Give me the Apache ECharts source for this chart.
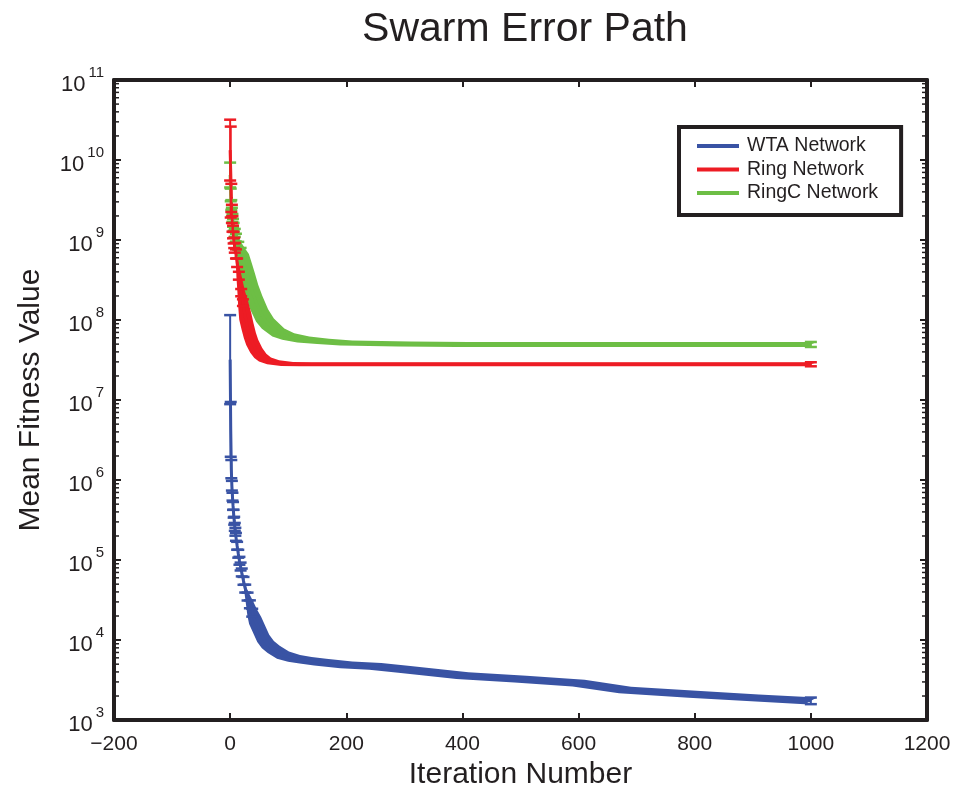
<!DOCTYPE html>
<html><head><meta charset="utf-8">
<script src="https://cdn.jsdelivr.net/npm/echarts@6/dist/echarts.min.js"></script>
<style>html,body{margin:0;padding:0;background:#fff}#chart{width:955px;height:795px}</style>
</head><body><div id="chart"></div>
<script>
// ---- data ----
const seriesNames = ['WTA Network', 'Ring Network', 'RingC Network'];

const wtaIter   = [0,1,2,3,4,5,6,7,8,9,10,12,14,16,18,20,23,26,30,34,38,43,50,57,65,75,91,110,130,155,200,250,300,400,500,600,680,800,900,1000];
const wtaMean   = [3.2e7,4.3e6,1.37e6,8.5e5,6.2e5,4.75e5,3.8e5,3.1e5,2.6e5,2.26e5,1.95e5,1.51e5,1.2e5,9.8e4,8.3e4,7.0e4,5.5e4,4.4e4,3.5e4,2.8e4,2.2e4,1.76e4,1.36e4,1.05e4,8.8e3,7.65e3,6.5e3,5.9e3,5.6e3,5.3e3,4.9e3,4.7e3,4.3e3,3.6e3,3.25e3,2.9e3,2.38e3,2.1e3,1.9e3,1.74e3];
const wtaSpread = [3.6,2.2,1.3,1.15,1.12,1.12,1.12,1.12,1.12,1.12,1.12,1.12,1.12,1.12,1.12,1.12,1.12,1.12,1.12,1.12,1.12,1.11,1.11,1.11,1.11,1.11,1.11,1.1,1.1,1.1,1.1,1.1,1.1,1.1,1.1,1.1,1.1,1.1,1.1,1.1];

const ringIter   = [0,1,2,3,4,5,6,7,8,10,12,15,19,22,26,30,34,38,45,52,60,74,98,130,200,400,600,800,1000];
const ringMean   = [1.33e10,7.07e9,3.36e9,2.12e9,1.59e9,1.26e9,1.07e9,9.2e8,8.0e8,6.7e8,5.2e8,3.58e8,2.2e8,1.65e8,1.11e8,8.3e7,6.4e7,5.25e7,4.17e7,3.56e7,3.22e7,2.96e7,2.83e7,2.8e7,2.8e7,2.8e7,2.8e7,2.8e7,2.8e7];
const ringSpread = [2.4,3.7,1.5,1.3,1.25,1.2,1.18,1.16,1.15,1.14,1.13,1.12,1.11,1.1,1.1,1.09,1.08,1.08,1.07,1.065,1.06,1.06,1.06,1.06,1.06,1.06,1.06,1.06,1.06];

const ringcIter   = [0,1,2,3,4,5,6,8,10,14,18,22,27,32,38,45,55,65,83,100,126,160,200,300,400,600,800,1000];
const ringcMean   = [6.49e9,3.66e9,2.74e9,2.24e9,1.89e9,1.64e9,1.46e9,1.23e9,1.07e9,8.47e8,6.93e8,5.66e8,4.26e8,3.19e8,2.26e8,1.65e8,1.14e8,9.04e7,6.98e7,6.23e7,5.71e7,5.4e7,5.17e7,5.02e7,4.95e7,4.95e7,4.95e7,4.95e7];
const ringcSpread = [1.43,1.2,1.15,1.13,1.12,1.12,1.12,1.12,1.12,1.12,1.15,1.18,1.2,1.22,1.22,1.22,1.2,1.16,1.12,1.1,1.09,1.08,1.075,1.075,1.075,1.075,1.075,1.075];

// iteration from which the dense error bars merge into a solid band
const wtaBandFrom = 43, ringBandFrom = 26, ringcBandFrom = 22;

const xMin = -200, xMax = 1200, xStep = 200;
const yMin = 1e3, yMax = 1e11;

// ---- styles ----
const colors = { wta: '#3953a4', ring: '#ed1c24', ringc: '#6dbe45' };
const ink = '#231f20';
const FONT = 'Liberation Sans, Arial, sans-serif';
const CAP = 6;        // half cap width, px
const RAMP = 4;       // points over which the band widens in

function pairs(iters, means) { return iters.map((x, i) => [x, means[i]]); }

function lineSeries(name, color, iters, means) {
  return { type: 'line', name, data: pairs(iters, means), showSymbol: false, symbol: 'none',
    lineStyle: { color, width: 3 }, itemStyle: { color }, z: 4, animation: false };
}
// individual error bars: only where they are still separate, plus the last one
function errSeries(color, iters, means, spreads, fromIter) {
  const data = [];
  iters.forEach((x, i) => {
    if (x < fromIter || i === iters.length - 1)
      data.push([x, means[i], means[i] / spreads[i], means[i] * spreads[i]]);
  });
  return {
    type: 'custom', name: '_err', data, z: 5, clip: false, animation: false,
    encode: { x: 0, y: 1 },
    renderItem(params, api) {
      const x = api.value(0);
      const pLo = api.coord([x, api.value(2)]);
      const pHi = api.coord([x, api.value(3)]);
      const c = CAP;
      return { type: 'group', children: [
        { type: 'line', shape: { x1: pLo[0], y1: pLo[1], x2: pHi[0], y2: pHi[1] }, style: { stroke: color, lineWidth: 2 } },
        { type: 'line', shape: { x1: pHi[0] - c, y1: pHi[1], x2: pHi[0] + c, y2: pHi[1] }, style: { stroke: color, lineWidth: 2.5 } },
        { type: 'line', shape: { x1: pLo[0] - c, y1: pLo[1], x2: pLo[0] + c, y2: pLo[1] }, style: { stroke: color, lineWidth: 2.5 } }
      ]};
    }
  };
}
// dense error bars drawn as their envelope, widening in gradually
function bandSeries(color, iters, means, spreads, fromIter) {
  const start = Math.max(1, iters.indexOf(fromIter) - RAMP);
  return {
    type: 'custom', name: '_band', data: [[iters[start], means[start]]], z: 3, clip: false, animation: false,
    encode: { x: 0, y: 1 },
    renderItem(params, api) {
      const up = [], dn = [];
      for (let i = start; i < iters.length; i++) {
        const w = Math.min(1, (i - start + 1) / (RAMP + 1));
        const c = CAP * w;
        const f = Math.pow(spreads[i], w);
        const a = api.coord([iters[i], means[i] * f]);
        const b = api.coord([iters[i], means[i] / f]);
        up.push([a[0] + c, a[1]]);
        dn.push([b[0] - c, b[1]]);
      }
      const apex = api.coord([iters[start - 1], means[start - 1]]);
      return { type: 'polygon', shape: { points: [apex].concat(up, dn.reverse()) }, style: { fill: color } };
    }
  };
}
// log minor ticks (2..9 x 10^k) on left and right frame
const minorVals = [];
for (let k = Math.round(Math.log10(yMin)); k < Math.round(Math.log10(yMax)); k++)
  for (let m = 2; m <= 9; m++) minorVals.push(m * Math.pow(10, k));
const minorTickSeries = {
  type: 'custom', name: '_minor', data: minorVals.map(v => [xMin, v]), z: 10, clip: false, animation: false,
  encode: { x: 0, y: 1 }, silent: true,
  renderItem(params, api) {
    const v = api.value(1);
    const l = api.coord([xMin, v]), r = api.coord([xMax, v]);
    return { type: 'group', children: [
      { type: 'line', shape: { x1: l[0], y1: l[1], x2: l[0] + 5, y2: l[1] }, style: { stroke: ink, lineWidth: 1.5 } },
      { type: 'line', shape: { x1: r[0] - 5, y1: r[1], x2: r[0], y2: r[1] }, style: { stroke: ink, lineWidth: 1.5 } }
    ]};
  }
};

const chart = echarts.init(document.getElementById('chart'), null, { renderer: 'canvas' });
const axisLine = { show: true, onZero: false, lineStyle: { color: ink, width: 4 } };
const tick = { show: true, inside: true, length: 7, lineStyle: { color: ink, width: 2 } };

chart.setOption({
  animation: false,
  backgroundColor: '#fff',
  title: { text: 'Swarm Error Path', left: 520, textAlign: 'center', top: 4,
    textStyle: { fontFamily: FONT, fontSize: 41, fontWeight: 'normal', color: ink } },
  grid: { left: 114, right: 28, top: 80, bottom: 73 },
  legend: {
    data: seriesNames, orient: 'vertical', left: 679, top: 127,
    padding: [9, 23, 12, 18], itemGap: 3.5, itemWidth: 42, itemHeight: 4, icon: 'rect',
    borderColor: ink, borderWidth: 4, backgroundColor: '#fff',
    textStyle: { fontFamily: FONT, fontSize: 19.5, color: ink, lineHeight: 20, padding: [0, 0, 0, 3] }
  },
  xAxis: [
    { type: 'value', min: xMin, max: xMax, interval: xStep, position: 'bottom',
      name: 'Iteration Number', nameLocation: 'middle', nameGap: 37,
      nameTextStyle: { fontFamily: FONT, fontSize: 30, color: ink },
      axisLine, axisTick: tick, splitLine: { show: false },
      axisLabel: { fontFamily: FONT, fontSize: 21, color: ink, margin: 14,
        formatter: v => (v < 0 ? '\u2212' + Math.abs(v) : String(v)) } },
    { type: 'value', min: xMin, max: xMax, interval: xStep, position: 'top',
      axisLine, axisTick: tick, axisLabel: { show: false }, splitLine: { show: false } }
  ],
  yAxis: [
    { type: 'log', logBase: 10, min: yMin, max: yMax, interval: 1, position: 'left',
      name: 'Mean Fitness Value', nameLocation: 'middle', nameGap: 68,
      nameTextStyle: { fontFamily: FONT, fontSize: 30, color: ink },
      axisLine, axisTick: tick, splitLine: { show: false }, minorTick: { show: false },
      axisLabel: { margin: 10, color: ink,
        formatter: v => '{b|10}{e|' + Math.round(Math.log10(v)) + '}',
        rich: {
          b: { fontFamily: FONT, fontSize: 22, color: ink, padding: [10, 0, 0, 0] },
          e: { fontFamily: FONT, fontSize: 15, color: ink, padding: [0, 0, 15, 3] }
        } } },
    { type: 'log', logBase: 10, min: yMin, max: yMax, interval: 1, position: 'right',
      axisLine, axisTick: tick, axisLabel: { show: false }, splitLine: { show: false } }
  ],
  series: [
    bandSeries(colors.wta, wtaIter, wtaMean, wtaSpread, wtaBandFrom),
    errSeries(colors.wta, wtaIter, wtaMean, wtaSpread, wtaBandFrom),
    lineSeries(seriesNames[0], colors.wta, wtaIter, wtaMean),
    bandSeries(colors.ringc, ringcIter, ringcMean, ringcSpread, ringcBandFrom),
    errSeries(colors.ringc, ringcIter, ringcMean, ringcSpread, ringcBandFrom),
    lineSeries(seriesNames[2], colors.ringc, ringcIter, ringcMean),
    bandSeries(colors.ring, ringIter, ringMean, ringSpread, ringBandFrom),
    errSeries(colors.ring, ringIter, ringMean, ringSpread, ringBandFrom),
    lineSeries(seriesNames[1], colors.ring, ringIter, ringMean),
    minorTickSeries
  ]
});
</script>
</body></html>
